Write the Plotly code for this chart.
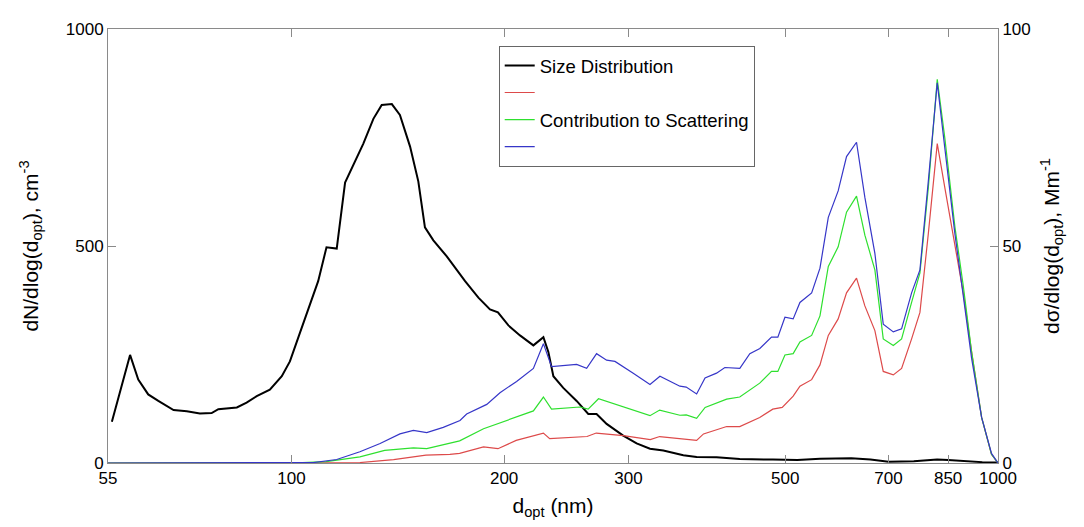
import plotly.graph_objects as go

# ---- data ----
size_d = [55.7, 59.1, 60.7, 62.7, 64.8, 68.1, 71.1, 74.2, 77.1, 78.8, 83.7, 86.4, 89.3, 93.2,
          96.9, 99.5, 102.3, 105.6, 109.1, 112.1, 115.9, 119.1, 123.7, 126.4, 130.6, 134.2,
          138.7, 142.4, 147.2, 151.2, 154.5, 158.8, 165.9, 176.1, 183.9, 191, 196, 202.8,
          210.6, 220, 227.3, 231, 234.8, 242.5, 253.3, 263.1, 270.3, 279.3, 294.8, 308,
          321.7, 336, 358.6, 374.5, 399.6, 431, 480, 520, 560, 620, 660, 700, 760, 820,
          850, 900, 950, 1000]
size_n = [95, 249, 192, 158, 143, 122, 119, 114, 115, 124, 128, 139, 154, 169,
          200, 234, 290, 354, 419, 497, 494, 646, 702, 736, 793, 825,
          827, 802, 729, 649, 543, 513, 476, 419, 381, 354, 347, 317,
          294, 271, 290, 256, 200, 173, 143, 113, 113, 90, 63, 45,
          33, 29, 18, 14, 13, 9, 8, 7, 10, 11, 8, 3, 4, 8, 7, 4, 2, 1]

blue_d = [55, 92, 101.7, 107.4, 115.9, 125, 133.5, 142.4, 148.8, 155.4, 164, 173.2, 177, 189,
          197.3, 208.3, 220, 227.3, 233.4, 253.3, 261.7, 270.3, 279.3, 287, 304.6, 321.7,
          332.3, 343.3, 354.6, 362, 374.5, 384.9, 399.6, 410.6, 431.1, 445.4, 460.2, 478,
          488, 499.4, 513, 524.4, 544.8, 559.8, 575.2, 594, 610.4, 630.6, 648, 669.5, 688,
          710.9, 730.4, 754.6, 775.4, 796.8, 820.4, 841, 869, 893, 917.6, 948, 979, 1000]
blue_s = [0, 0, 0.05, 0.1, 0.8, 2.6, 4.5, 6.7, 7.5, 7.0, 8.2, 9.8, 11.3, 13.5,
          16.2, 18.8, 21.8, 27.5, 22.2, 22.7, 21.8, 25.2, 23.7, 23.4, 20.7, 18.1,
          20.0, 18.8, 17.7, 17.5, 15.9, 19.6, 20.7, 22.0, 21.8, 25.2, 26.4, 29.0,
          29.0, 33.6, 33.2, 37.0, 39.2, 44.9, 56.6, 62.7, 70.6, 73.9, 61.2, 48.3, 32.0,
          30.2, 30.9, 39.2, 44.5, 64.9, 87.6, 72.5, 52.8, 38.5, 24.1, 10.5, 2.2, 0]

green_d = [55, 97, 101.7, 112, 125, 135.5, 148.8, 155.4, 167.6, 173, 187, 203.8, 220, 227.3,
           233.4, 256, 263, 272, 284, 301, 321.7, 332, 354.6, 362, 374.5, 385, 413, 431,
           460, 478, 488, 499.4, 513, 524.4, 544.8, 559.8, 575.2, 594, 610.4, 630.6, 648,
           669.5, 688, 710.9, 730.4, 754.6, 775.4, 796.8, 820.4, 841, 869, 893, 917.6, 948,
           979, 1000]
green_s = [0, 0, 0.05, 0.3, 1.4, 2.9, 3.5, 3.3, 4.5, 5.1, 7.9, 10.1, 12.0, 15.2,
           12.4, 12.9, 12.4, 14.8, 13.8, 12.4, 10.9, 12.2, 11.0, 11.1, 10.3, 12.8, 14.7, 15.2,
           18.4, 21.1, 21.1, 24.9, 25.2, 27.9, 29.4, 33.9, 45.3, 49.8, 57.8, 61.5, 52.5,
           44.5, 28.6, 27.1, 28.6, 37.0, 43.8, 63.4, 88.4, 74.8, 54.4, 40.8, 25.6, 10.5,
           2.0, 0]

red_d = [55, 103, 107, 125, 139.5, 155, 167.6, 173, 187, 196, 208, 220, 227.3, 232,
         262, 270, 295, 322, 332, 374.5, 383, 413, 431, 460, 480, 495, 513, 524.4,
         544.8, 559.8, 575.2, 594, 610.4, 630.6, 648, 669.5, 688, 710.9, 730.4, 754.6,
         775.4, 796.8, 820.4, 841, 869, 893, 917.6, 948, 979, 1000]
red_s = [0, 0, 0.05, 0.1, 0.8, 1.8, 2.0, 2.2, 3.7, 3.3, 5.2, 6.3, 6.9, 5.6,
         6.1, 6.9, 6.3, 5.4, 6.1, 5.2, 6.7, 8.4, 8.4, 10.5, 12.4, 12.8, 15.4, 17.7,
         19.2, 22.6, 29.4, 33.2, 39.2, 42.6, 36.2, 30.5, 21.1, 20.3, 21.8, 28.6,
         34.7, 52.8, 73.6, 63.4, 50.6, 39.2, 25.6, 10.5, 2.0, 0]

x_ticks = [55, 100, 200, 300, 500, 700, 850, 1000]
x_tick_text = ["55", "100", "200", "300", "500", "700", "850", "1000"]
y1_ticks = [0, 500, 1000]
y2_ticks = [0, 50, 100]

FONT = "Liberation Sans, Arial, sans-serif"
AX_COL = "#8a8a8a"

fig = go.Figure()
fig.add_trace(go.Scatter(x=size_d, y=size_n, mode="lines", name="Size Distribution",
                         line=dict(color="black", width=2), yaxis="y"))
fig.add_trace(go.Scatter(x=red_d, y=red_s, mode="lines", name="", showlegend=True,
                         line=dict(color="#dd4a4a", width=1.2), yaxis="y2"))
fig.add_trace(go.Scatter(x=green_d, y=green_s, mode="lines", name="Contribution to Scattering",
                         line=dict(color="#2ee02e", width=1.2), yaxis="y2"))
fig.add_trace(go.Scatter(x=blue_d, y=blue_s, mode="lines", name="", showlegend=True,
                         line=dict(color="#3636c8", width=1.2), yaxis="y2"))

# page body has an 8px margin; the figure is sized so the plot area lands where it should
fig.update_layout(
    width=1076, height=519,
    margin=dict(l=100, r=86, t=14, b=64),
    paper_bgcolor="white", plot_bgcolor="white",
    font=dict(family=FONT, color="black", size=17),
    showlegend=True,
    legend=dict(x=0.439, y=0.961, xanchor="left", yanchor="top",
                bgcolor="white", bordercolor="#666666", borderwidth=1,
                font=dict(size=18.5, family=FONT), traceorder="normal",
                itemwidth=30, tracegroupgap=0),
    xaxis=dict(type="log", range=[1.74036, 3.0], tickvals=x_ticks, ticktext=x_tick_text,
               ticks="inside", ticklen=8, tickcolor=AX_COL, showline=True, linecolor=AX_COL,
               linewidth=1, mirror="ticks", showgrid=False, zeroline=False,
               title=dict(text="d<sub>opt</sub> (nm)", font=dict(size=21, family=FONT), standoff=10),
               tickfont=dict(size=17)),
    yaxis=dict(range=[0, 1000], tickvals=y1_ticks, ticks="inside", ticklen=8, tickcolor=AX_COL,
               showline=True, linecolor=AX_COL, linewidth=1, showgrid=False, zeroline=False,
               title=dict(text="dN/dlog(d<sub>opt</sub>), cm<sup>-3</sup>",
                          font=dict(size=21, family=FONT), standoff=21),
               tickfont=dict(size=17)),
    yaxis2=dict(range=[0, 100], tickvals=y2_ticks, ticks="inside", ticklen=8, tickcolor=AX_COL,
                overlaying="y", side="right", showline=True, linecolor=AX_COL, linewidth=1,
                showgrid=False, zeroline=False,
                title=dict(text="dσ/dlog(d<sub>opt</sub>), Mm<sup>-1</sup>",
                           font=dict(size=21, family=FONT), standoff=14),
                tickfont=dict(size=17)),
)

fig.write_html("out.html")
